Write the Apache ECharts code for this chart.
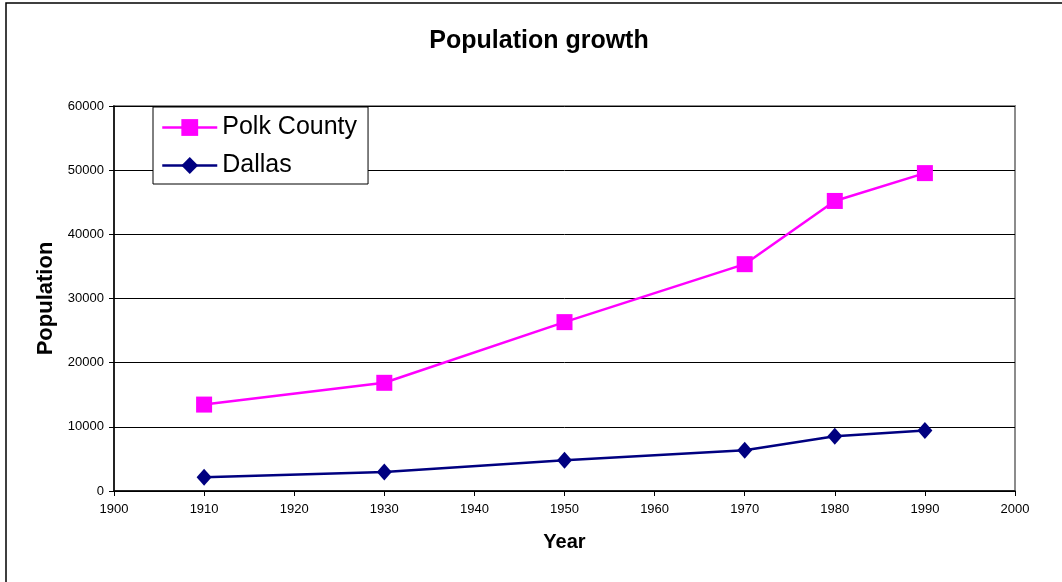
<!DOCTYPE html>
<html>
<head>
<meta charset="utf-8">
<script src="https://cdn.jsdelivr.net/npm/echarts@6/dist/echarts.min.js"></script>
<style>
  html, body { margin: 0; padding: 0; background: #fff; }
  #chart { width: 1062px; height: 582px; }
</style>
</head>
<body>
<div id="chart"></div>
<script>
// Census population, Polk County and the city of Dallas
const years = [1910, 1930, 1950, 1970, 1980, 1990];
const polkCounty = [13469, 16861, 26317, 35349, 45203, 49541];
const dallas = [2124, 2975, 4793, 6361, 8530, 9422];

const seriesNames = ['Polk County', 'Dallas'];
const titleText = 'Population growth';
const xAxisName = 'Year';
const yAxisName = 'Population';

const FONT = '"Liberation Sans", Arial, sans-serif';

const pairs = (xs, ys) => xs.map((x, i) => [x, ys[i]]);
const plain = (v) => String(v);

const chart = echarts.init(document.getElementById('chart'), null, { renderer: 'canvas' });

chart.setOption({
  animation: false,
  backgroundColor: '#ffffff',
  graphic: [{
    type: 'rect',
    z: 0,
    silent: true,
    shape: { x: 6, y: 3, width: 1200, height: 800 },
    style: { fill: 'none', stroke: '#000', lineWidth: 1.5 }
  }],
  title: {
    text: titleText,
    left: 534,
    top: 24,
    textAlign: 'center',
    textStyle: { fontFamily: FONT, fontSize: 25, fontWeight: 'bold', color: '#000' }
  },
  legend: {
    orient: 'vertical',
    left: 153,
    top: 107,
    padding: [8, 11, 6, 8],
    itemGap: 13,
    itemWidth: 55,
    itemHeight: 21,
    backgroundColor: '#fff',
    borderColor: '#000',
    borderWidth: 1,
    borderRadius: 0,
    z: 10,
    lineStyle: { width: 2.5 },
    textStyle: { fontFamily: FONT, fontSize: 25, color: '#000' },
    data: seriesNames
  },
  grid: {
    left: 114,
    top: 106,
    right: 47,
    bottom: 91,
    show: true,
    borderColor: '#8c8c8c',
    borderWidth: 2,
    backgroundColor: '#fff'
  },
  xAxis: {
    type: 'value',
    min: 1900,
    max: 2000,
    interval: 10,
    name: xAxisName,
    nameLocation: 'middle',
    nameGap: 41,
    nameTextStyle: { fontFamily: FONT, fontSize: 20, fontWeight: 'bold', color: '#000' },
    axisLine: { show: true, onZero: false, lineStyle: { color: '#000', width: 1.5 } },
    axisTick: { show: true, inside: false, length: 5, lineStyle: { color: '#000' } },
    axisLabel: { fontFamily: FONT, fontSize: 13, color: '#000', margin: 12, formatter: plain },
    splitLine: { show: false }
  },
  yAxis: {
    type: 'value',
    min: 0,
    max: 60000,
    interval: 10000,
    name: yAxisName,
    nameLocation: 'middle',
    nameGap: 55,
    nameRotate: 90,
    nameTextStyle: { fontFamily: FONT, fontSize: 22, fontWeight: 'bold', color: '#000' },
    axisLine: { show: true, lineStyle: { color: '#000', width: 1.5 } },
    axisTick: { show: true, inside: false, length: 5, lineStyle: { color: '#000' } },
    axisLabel: { fontFamily: FONT, fontSize: 13, color: '#000', margin: 10, formatter: plain },
    splitLine: { show: true, lineStyle: { color: '#000', width: 1 } }
  },
  series: [
    {
      name: seriesNames[0],
      type: 'line',
      data: pairs(years, polkCounty),
      symbol: 'rect',
      symbolSize: 16,
      color: '#ff00ff',
      lineStyle: { color: '#ff00ff', width: 2.5 },
      itemStyle: { color: '#ff00ff' },
      z: 3
    },
    {
      name: seriesNames[1],
      type: 'line',
      data: pairs(years, dallas),
      symbol: 'diamond',
      symbolSize: [15, 17],
      color: '#000080',
      lineStyle: { color: '#000080', width: 2.5 },
      itemStyle: { color: '#000080' },
      z: 3
    }
  ]
});
</script>
</body>
</html>
